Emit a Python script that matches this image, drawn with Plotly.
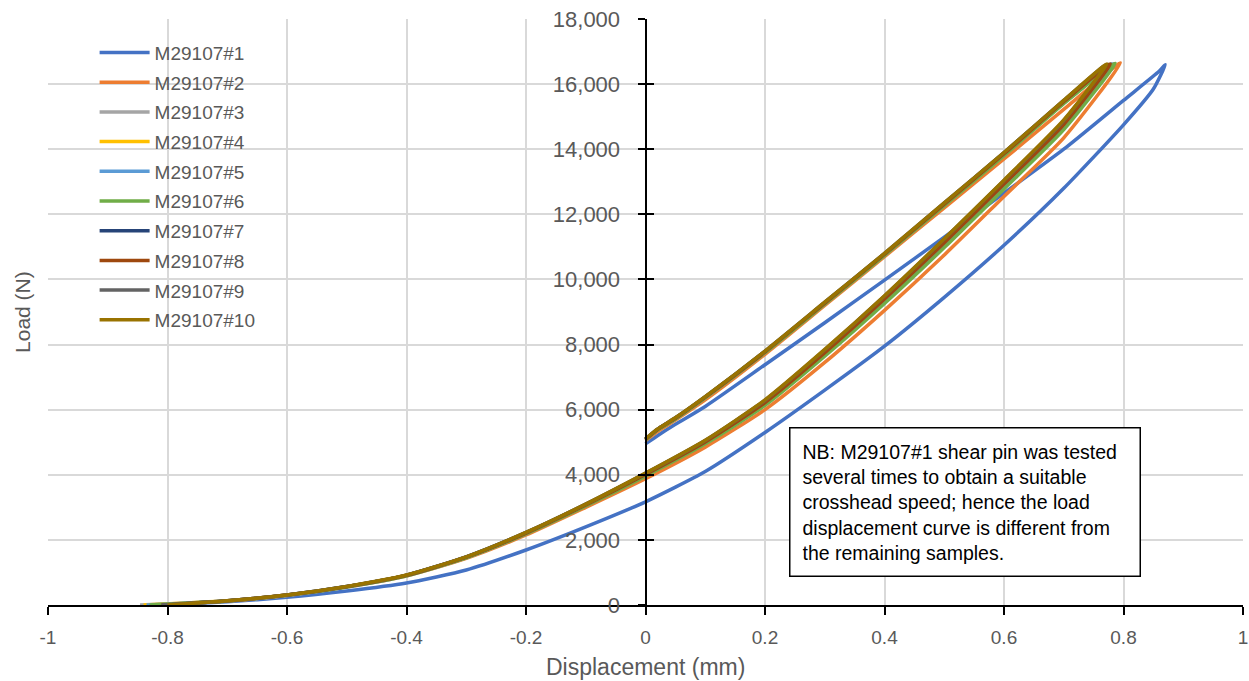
import plotly.graph_objects as go

# ---------------- data ----------------
series_names = ["M29107#1", "M29107#2", "M29107#3", "M29107#4", "M29107#5",
                "M29107#6", "M29107#7", "M29107#8", "M29107#9", "M29107#10"]
series_colors = ["#4472C4", "#ED7D31", "#A5A5A5", "#FFC000", "#5B9BD5",
                 "#70AD47", "#264478", "#9E480E", "#636363", "#997300"]

# each sample: loading branch (left to right) followed by unloading branch (back to x=0)
s1_disp = [-0.80, -0.7, -0.6, -0.5, -0.4, -0.3, -0.2, -0.1, 0.0, 0.1, 0.2, 0.3, 0.4, 0.5, 0.6, 0.7, 0.8, 0.85, 0.87,
           0.86, 0.8, 0.7, 0.6, 0.5, 0.4, 0.3, 0.2, 0.1, 0.05, 0.02, 0.0]
s1_load = [0, 100, 236, 430, 676, 1075, 1690, 2400, 3170, 4100, 5300, 6600, 7950, 9450, 11050, 12800, 14750, 15850, 16600,
           16400, 15500, 14000, 12650, 11300, 9980, 8670, 7380, 6100, 5550, 5200, 4950]

s2_disp = [-0.82, -0.7, -0.6, -0.5, -0.4, -0.3, -0.2, -0.1, 0.0, 0.1, 0.2, 0.3, 0.4, 0.5, 0.6, 0.7, 0.795,
           0.7, 0.6, 0.5, 0.4, 0.3, 0.2, 0.1, 0.05, 0.02, 0.0]
s2_load = [0, 120, 295, 550, 890, 1430, 2150, 3000, 3880, 4850, 6000, 7450, 9050, 10750, 12550, 14350, 16650,
           15225, 13700, 12200, 10700, 9200, 7700, 6300, 5680, 5330, 5050]

s3_disp = [-0.846, -0.7, -0.6, -0.5, -0.4, -0.3, -0.2, -0.1, 0.0, 0.1, 0.2, 0.3, 0.4, 0.5, 0.6, 0.7, 0.783,
           0.7, 0.6, 0.5, 0.4, 0.3, 0.2, 0.1, 0.05, 0.02, 0.0]
s3_load = [0, 125, 300, 560, 905, 1460, 2200, 3060, 3990, 4980, 6180, 7700, 9330, 11050, 12850, 14650, 16630,
           15420, 13820, 12280, 10750, 9250, 7760, 6370, 5720, 5380, 5080]

s4_disp = [-0.84, -0.7, -0.6, -0.5, -0.4, -0.3, -0.2, -0.1, 0.0, 0.1, 0.2, 0.3, 0.4, 0.5, 0.6, 0.7, 0.776,
           0.7, 0.6, 0.5, 0.4, 0.3, 0.2, 0.1, 0.05, 0.02, 0.0]
s4_load = [0, 128, 305, 565, 912, 1470, 2215, 3080, 4020, 5020, 6240, 7780, 9420, 11150, 12950, 14780, 16610,
           15470, 13870, 12320, 10780, 9280, 7780, 6390, 5740, 5390, 5090]

s5_disp = [-0.835, -0.7, -0.6, -0.5, -0.4, -0.3, -0.2, -0.1, 0.0, 0.1, 0.2, 0.3, 0.4, 0.5, 0.6, 0.7, 0.78,
           0.7, 0.6, 0.5, 0.4, 0.3, 0.2, 0.1, 0.05, 0.02, 0.0]
s5_load = [0, 126, 302, 562, 908, 1465, 2205, 3070, 4000, 5000, 6200, 7730, 9370, 11100, 12900, 14720, 16620,
           15450, 13850, 12300, 10770, 9270, 7770, 6380, 5730, 5385, 5085]

s6_disp = [-0.83, -0.7, -0.6, -0.5, -0.4, -0.3, -0.2, -0.1, 0.0, 0.1, 0.2, 0.3, 0.4, 0.5, 0.6, 0.7, 0.786,
           0.7, 0.6, 0.5, 0.4, 0.3, 0.2, 0.1, 0.05, 0.02, 0.0]
s6_load = [0, 124, 298, 556, 900, 1450, 2185, 3040, 3960, 4950, 6130, 7640, 9260, 10980, 12780, 14600, 16640,
           15400, 13800, 12270, 10740, 9240, 7750, 6360, 5710, 5370, 5070]

s7_disp = [-0.80, -0.7, -0.6, -0.5, -0.4, -0.3, -0.2, -0.1, 0.0, 0.1, 0.2, 0.3, 0.4, 0.5, 0.6, 0.7, 0.774,
           0.7, 0.6, 0.5, 0.4, 0.3, 0.2, 0.1, 0.05, 0.02, 0.0]
s7_load = [0, 129, 308, 568, 918, 1478, 2225, 3095, 4040, 5045, 6280, 7820, 9470, 11210, 13010, 14850, 16610,
           15490, 13890, 12340, 10790, 9290, 7790, 6395, 5745, 5395, 5095]

s8_disp = [-0.81, -0.7, -0.6, -0.5, -0.4, -0.3, -0.2, -0.1, 0.0, 0.1, 0.2, 0.3, 0.4, 0.5, 0.6, 0.7, 0.778,
           0.7, 0.6, 0.5, 0.4, 0.3, 0.2, 0.1, 0.05, 0.02, 0.0]
s8_load = [0, 127, 304, 564, 910, 1468, 2210, 3075, 4010, 5010, 6220, 7750, 9400, 11130, 12930, 14760, 16620,
           15460, 13860, 12310, 10775, 9275, 7775, 6385, 5735, 5388, 5088]

s9_disp = [-0.81, -0.7, -0.6, -0.5, -0.4, -0.3, -0.2, -0.1, 0.0, 0.1, 0.2, 0.3, 0.4, 0.5, 0.6, 0.7, 0.771,
           0.7, 0.6, 0.5, 0.4, 0.3, 0.2, 0.1, 0.05, 0.02, 0.0]
s9_load = [0, 129, 309, 569, 919, 1479, 2228, 3098, 4045, 5055, 6290, 7840, 9490, 11240, 13040, 14880, 16600,
           15500, 13900, 12350, 10800, 9300, 7800, 6400, 5750, 5400, 5100]

s10_disp = [-0.80, -0.7, -0.6, -0.5, -0.4, -0.3, -0.2, -0.1, 0.0, 0.1, 0.2, 0.3, 0.4, 0.5, 0.6, 0.7, 0.772,
            0.7, 0.6, 0.5, 0.4, 0.3, 0.2, 0.1, 0.05, 0.02, 0.0]
s10_load = [0, 130, 310, 570, 920, 1480, 2230, 3100, 4050, 5060, 6300, 7850, 9500, 11250, 13050, 14900, 16620,
            15500, 13900, 12350, 10800, 9300, 7800, 6400, 5750, 5400, 5100]

x_tickvals = [-1, -0.8, -0.6, -0.4, -0.2, 0, 0.2, 0.4, 0.6, 0.8, 1]
x_ticktext = ["-1", "-0.8", "-0.6", "-0.4", "-0.2", "0", "0.2", "0.4", "0.6", "0.8", "1"]
y_tickvals = [0, 2000, 4000, 6000, 8000, 10000, 12000, 14000, 16000, 18000]
y_ticktext = ["0", "2,000", "4,000", "6,000", "8,000", "10,000", "12,000", "14,000", "16,000", "18,000"]

x_title = "Displacement (mm)"
y_title = "Load (N)"
note_text = ("NB: M29107#1 shear pin was tested<br>several times to obtain a suitable<br>"
             "crosshead speed; hence the load<br>displacement curve is different from<br>"
             "the remaining samples.")

all_disp = [s1_disp, s2_disp, s3_disp, s4_disp, s5_disp, s6_disp, s7_disp, s8_disp, s9_disp, s10_disp]
all_load = [s1_load, s2_load, s3_load, s4_load, s5_load, s6_load, s7_load, s8_load, s9_load, s10_load]

# ---------------- figure ----------------
FONT = "Liberation Sans, Arial, sans-serif"
GREY_TXT = "#595959"

fig = go.Figure()
for i, name in enumerate(series_names):
    fig.add_trace(go.Scatter(
        x=all_disp[i], y=all_load[i], mode="lines", name=name,
        line=dict(color=series_colors[i], width=3.5, shape="spline", smoothing=0.6),
        legendgroup=name,
    ))

# helper trace for the inner half of the crossing y-axis ticks
fig.add_trace(go.Scatter(x=[0], y=[0], yaxis="y2", mode="markers",
                         marker=dict(opacity=0), showlegend=False, hoverinfo="skip"))

fig.update_layout(
    width=1249, height=681,
    margin=dict(l=48, r=6, t=19, b=76, autoexpand=False),
    plot_bgcolor="white", paper_bgcolor="white",
    font=dict(family=FONT, color=GREY_TXT),
    showlegend=True,
    legend=dict(
        x=0.039, y=0.975, xanchor="left", yanchor="top",
        font=dict(size=19, color=GREY_TXT, family=FONT),
        itemwidth=50, traceorder="grouped", tracegroupgap=2,
        bgcolor="rgba(0,0,0,0)",
    ),
    xaxis=dict(
        range=[-1, 1], tickvals=x_tickvals, ticktext=x_ticktext,
        showgrid=True, gridcolor="#D9D9D9", gridwidth=1.5,
        zeroline=False, showline=True, linecolor="black", linewidth=2,
        ticks="outside", ticklen=8, tickwidth=2, tickcolor="black",
        tickfont=dict(size=19, color=GREY_TXT, family=FONT),
        ticklabelstandoff=6, automargin=False, ticklabeloverflow="allow",
    ),
    yaxis=dict(
        range=[0, 18000], tickvals=y_tickvals, ticktext=y_ticktext,
        anchor="free", position=0.5,
        showgrid=True, gridcolor="#D9D9D9", gridwidth=1.5,
        zeroline=False, showline=True, linecolor="black", linewidth=2,
        ticks="outside", ticklen=7, tickwidth=2, tickcolor="black",
        tickfont=dict(size=22, color=GREY_TXT, family=FONT),
        ticklabelstandoff=13, automargin=False, ticklabeloverflow="allow",
    ),
    yaxis2=dict(
        range=[0, 18000], tickvals=y_tickvals, overlaying="y",
        anchor="free", position=0.5, side="left",
        showgrid=False, zeroline=False, showline=False,
        ticks="inside", ticklen=7, tickwidth=2, tickcolor="black",
        showticklabels=False, automargin=False,
    ),
    annotations=[
        dict(text=x_title, xref="paper", yref="paper", x=0.5, y=-0.106,
             xanchor="center", yanchor="middle", showarrow=False,
             font=dict(size=23, color=GREY_TXT, family=FONT)),
        dict(text=y_title, xref="paper", yref="paper", x=-0.0218, y=0.5,
             xanchor="center", yanchor="middle", showarrow=False, textangle=-90,
             font=dict(size=21, color=GREY_TXT, family=FONT)),
        dict(text=note_text, xref="x", yref="y", x=0.24, y=5467,
             xanchor="left", yanchor="top", showarrow=False, align="left",
             width=325, borderpad=12, bordercolor="black", borderwidth=1.5,
             bgcolor="white",
             font=dict(size=19.5, color="black", family=FONT)),
    ],
)

# remove the default page-body margin so the figure sits at the page's top-left corner
fig.write_html("out.html", config={"displayModeBar": False},
               post_script="document.body.style.margin='0';")
